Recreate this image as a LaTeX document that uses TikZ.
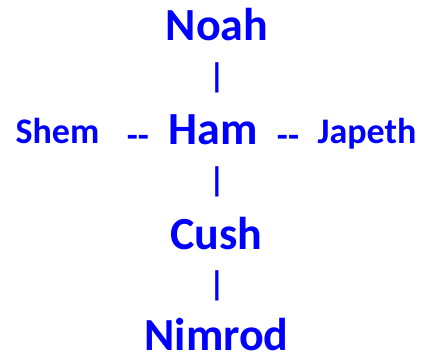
\documentclass[tikz,border=0pt]{standalone}
\usepackage{fontspec}
\setmainfont{Carlito}
\usepackage{xcolor}
\definecolor{nameblue}{RGB}{0,0,255}
\tikzset{
    big/.style={text=nameblue,inner sep=0,anchor=base,
        font=\bfseries\fontsize{46}{46}\selectfont},
    small/.style={text=nameblue,inner sep=0,anchor=base,
        font=\bfseries\fontsize{36}{36}\selectfont},
    bar/.style={text=nameblue,inner sep=0,
        font=\bfseries\fontsize{34}{34}\selectfont},
}
\begin{document}
\begin{tikzpicture}[x=1pt,y=1pt]
    \useasboundingbox (0,0) rectangle (422,356);
    % the line of descent
    \node[big] (noah) at (217,315.5) {Noah};
    \node[bar] (bar1) at (217,278) {|};
    \node[big] (ham) at (213,211) {Ham};
    \node[bar] (bar2) at (217,174) {|};
    \node[big] (cush) at (216.5,107) {Cush};
    \node[bar] (bar3) at (217,70) {|};
    \node[big] (nimrod) at (216.5,6) {Nimrod};
    % the brothers
    \node[small] (shem) at (57.5,212) {Shem};
    \node[small] (dash1) at (138,208) {-{}-};
    \node[small] (dash2) at (288,208) {-{}-};
    \node[small] (japeth) at (367,212) {Japeth};
\end{tikzpicture}
\end{document}
